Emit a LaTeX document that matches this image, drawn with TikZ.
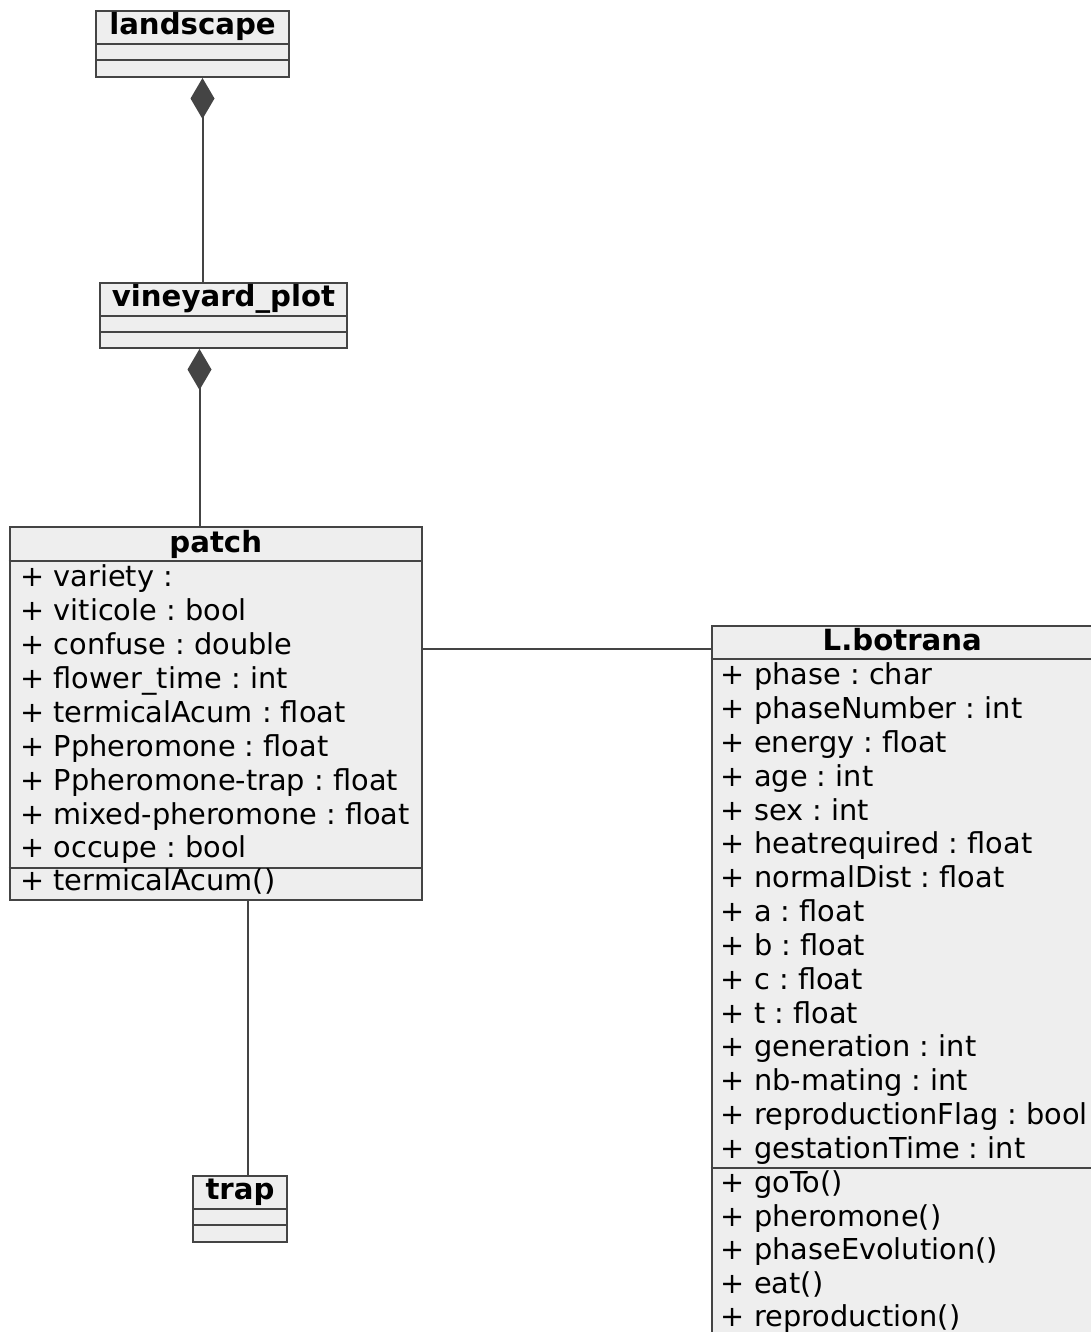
\documentclass[tikz,border=0pt]{standalone}
\usepackage{fontspec}
\setmainfont{DejaVu Sans}
\usetikzlibrary{arrows.meta, calc, fit, positioning}
\definecolor{umlfill}{HTML}{EEEEEE}
\definecolor{umlline}{HTML}{444444}
\frenchspacing

\begin{document}
\begin{tikzpicture}[x=0.5pt, y=-0.5pt,
  every node/.style={font=\fontsize{14.4}{17}\selectfont},
  classbox/.style={draw=umlline, fill=umlfill, line width=1pt, inner sep=0pt},
  classname/.style={font=\bfseries\fontsize{14.6}{17}\selectfont, anchor=base, inner sep=0pt},
  member/.style={anchor=base west, inner sep=0pt},
  sepline/.style={draw=umlline, line width=1pt},
  assoc/.style={draw=umlline, line width=1pt},
  composition/.style={assoc, {Diamond[length=20.5pt, width=12pt, fill=umlline]}-}]
  \useasboundingbox (0,0) rectangle (1091,1332);
  \clip (0,0) rectangle (1091,1332);

  % classes without members: name / label / left / top / right / bottom
  \foreach \nm/\lbl/\xa/\ya/\xb/\yb in {landscape/landscape/96/11/289/77,
      vineyard/vineyard\_plot/100/283/347/348, trap/trap/193/1176/287/1242}{
    \node[classbox, fit={(\xa,\ya) (\xb,\yb)}] (\nm) {};
    \node[classname] (\nm-name) at ($(\nm.north)+(0,24.5)$) {\lbl};
    \foreach \dy in {34,50}
      \draw[sepline] ($(\nm.north west)+(0,\dy)$) -- ($(\nm.north east)+(0,\dy)$);
  }

  % patch
  \node[classbox, fit={(9.5,527) (422,900)}] (patch) {};
  \node[classname] (patch-name) at ($(patch.north)+(0,26)$) {patch};
  \draw[sepline] ($(patch.north west)+(0,34.5)$) -- ($(patch.north east)+(0,34.5)$);
  \draw[sepline] ($(patch.south west)+(0,-33.5)$) -- ($(patch.south east)+(0,-33.5)$);
  \foreach \txt [count=\i from 0] in {variety :, viticole : bool, confuse : double,
      flower\_time : int, termicalAcum : float, Ppheromone : float,
      Ppheromone-trap : float, mixed-pheromone : float, occupe : bool}
    \node[member] (patch-a\i) at (20,586.7+33.9*\i) {+ \txt};
  \node[member] (patch-m0) at (20,890.7) {+ termicalAcum()};

  % L.botrana (runs off the page at right and bottom)
  \node[classbox, fit={(711.5,626) (1093,1338)}] (botrana) {};
  \node[classname] (botrana-name) at ($(botrana.north)+(0,25.7)$) {L.botrana};
  \draw[sepline] ($(botrana.north west)+(0,34)$) -- ($(botrana.north east)+(0,34)$);
  \draw[sepline] (botrana.west |- 0,1167.5) -- (botrana.east |- 0,1167.5);
  \foreach \txt [count=\i from 0] in {phase : char, phaseNumber : int, energy : float,
      age : int, sex : int, heatrequired : float, normalDist : float, a : float,
      b : float, c : float, t : float, generation : int, nb-mating : int,
      reproductionFlag : bool, gestationTime : int}
    \node[member] (botrana-a\i) at (720.5,684.8+33.83*\i) {+ \txt};
  \foreach \txt [count=\i from 0] in {goTo(), pheromone(), phaseEvolution(), eat(),
      reproduction()}
    \node[member] (botrana-m\i) at (720.5,1192.8+33.5*\i) {+ \txt};

  % relations
  \draw[composition] (landscape.south -| 202.5,0) -- (vineyard.north -| 202.5,0);
  \draw[composition] (vineyard.south -| 199.5,0) -- (patch.north -| 199.5,0);
  \draw[assoc] (patch.east |- 0,648.5) -- (botrana.west |- 0,648.5);
  \draw[assoc] (patch.south -| 247.5,0) -- (trap.north -| 247.5,0);
\end{tikzpicture}
\end{document}
